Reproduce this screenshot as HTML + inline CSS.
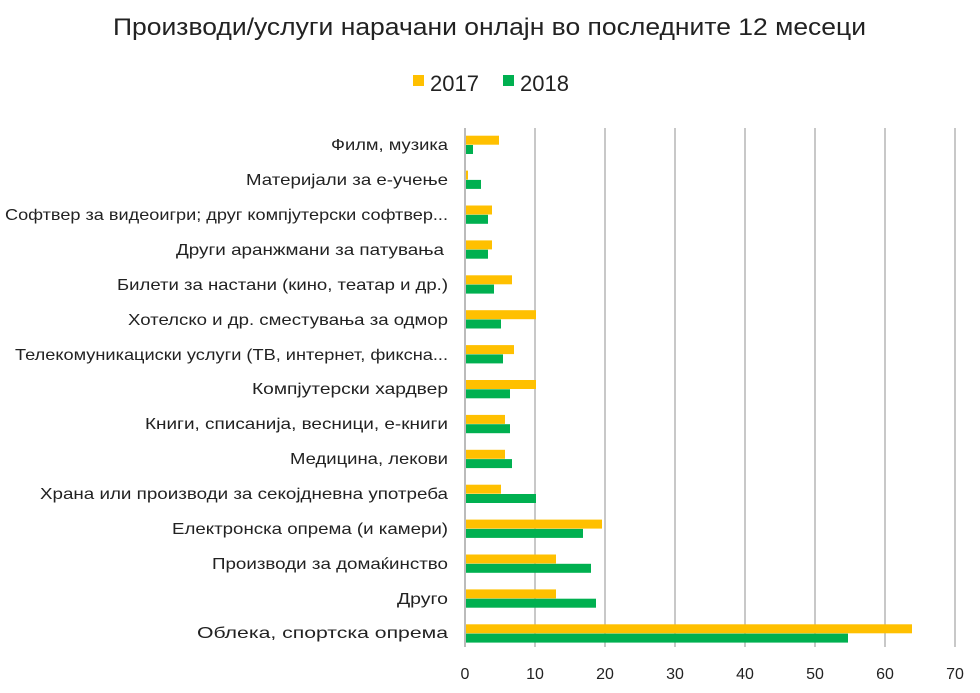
<!DOCTYPE html>
<html><head><meta charset="utf-8"><style>
body{margin:0;background:#fff;width:980px;height:688px;overflow:hidden;font-family:"Liberation Sans",sans-serif;}
</style></head><body>
<svg width="980" height="688" xmlns="http://www.w3.org/2000/svg" font-family="Liberation Sans, sans-serif">
<text x="113" y="35" font-size="24" fill="#222" textLength="753" lengthAdjust="spacingAndGlyphs">Производи/услуги нарачани онлајн во последните 12 месеци</text>
<rect x="413" y="75" width="11" height="11" fill="#FFC000"/>
<text x="430" y="91" font-size="22" fill="#222">2017</text>
<rect x="503" y="75" width="11" height="11" fill="#00B050"/>
<text x="520" y="91" font-size="22" fill="#222">2018</text>
<g stroke="#c8c8c8" stroke-width="2">
<line x1="535" y1="128" x2="535" y2="647"/><line x1="605" y1="128" x2="605" y2="647"/>
<line x1="675" y1="128" x2="675" y2="647"/><line x1="745" y1="128" x2="745" y2="647"/>
<line x1="815" y1="128" x2="815" y2="647"/><line x1="885" y1="128" x2="885" y2="647"/>
<line x1="955" y1="128" x2="955" y2="647"/><line x1="465" y1="128" x2="465" y2="647" stroke="#bbb"/>
</g>
<g font-size="16" fill="#222" text-anchor="middle">
<text x="465" y="679">0</text><text x="535" y="679">10</text><text x="605" y="679">20</text><text x="675" y="679">30</text><text x="745" y="679">40</text><text x="815" y="679">50</text><text x="885" y="679">60</text><text x="955" y="679">70</text>
</g>
<g fill="#FFC000">
<rect x="466" y="135.7" width="33" height="9"/>
<rect x="466" y="170.6" width="2" height="9"/>
<rect x="466" y="205.5" width="26" height="9"/>
<rect x="466" y="240.4" width="26" height="9"/>
<rect x="466" y="275.3" width="46" height="9"/>
<rect x="466" y="310.2" width="70" height="9"/>
<rect x="466" y="345.1" width="48" height="9"/>
<rect x="466" y="380.0" width="70" height="9"/>
<rect x="466" y="414.9" width="39" height="9"/>
<rect x="466" y="449.8" width="39" height="9"/>
<rect x="466" y="484.7" width="35" height="9"/>
<rect x="466" y="519.6" width="136" height="9"/>
<rect x="466" y="554.5" width="90" height="9"/>
<rect x="466" y="589.4" width="90" height="9"/>
<rect x="466" y="624.3" width="446" height="9"/>
</g>
<g fill="#00B050">
<rect x="466" y="145.0" width="7" height="9"/>
<rect x="466" y="179.9" width="15" height="9"/>
<rect x="466" y="214.8" width="22" height="9"/>
<rect x="466" y="249.7" width="22" height="9"/>
<rect x="466" y="284.6" width="28" height="9"/>
<rect x="466" y="319.5" width="35" height="9"/>
<rect x="466" y="354.4" width="37" height="9"/>
<rect x="466" y="389.3" width="44" height="9"/>
<rect x="466" y="424.2" width="44" height="9"/>
<rect x="466" y="459.1" width="46" height="9"/>
<rect x="466" y="494.0" width="70" height="9"/>
<rect x="466" y="528.9" width="117" height="9"/>
<rect x="466" y="563.8" width="125" height="9"/>
<rect x="466" y="598.7" width="130" height="9"/>
<rect x="466" y="633.6" width="382" height="9"/>
</g>
<g font-size="16" fill="#222">
<text x="331" y="150" textLength="117" lengthAdjust="spacingAndGlyphs">Филм, музика</text>
<text x="246" y="185" textLength="202" lengthAdjust="spacingAndGlyphs">Материјали за е-учење</text>
<text x="5" y="220" textLength="443" lengthAdjust="spacingAndGlyphs">Софтвер за видеоигри; друг компјутерски софтвер...</text>
<text x="176" y="255" textLength="268" lengthAdjust="spacingAndGlyphs">Други аранжмани за патувања</text>
<text x="117" y="290" textLength="331" lengthAdjust="spacingAndGlyphs">Билети за настани (кино, театар и др.)</text>
<text x="128" y="325" textLength="320" lengthAdjust="spacingAndGlyphs">Хотелско и др. сместувања за одмор</text>
<text x="15" y="360" textLength="433" lengthAdjust="spacingAndGlyphs">Телекомуникациски услуги (ТВ, интернет, фиксна...</text>
<text x="252" y="394" textLength="196" lengthAdjust="spacingAndGlyphs">Компјутерски хардвер</text>
<text x="145" y="429" textLength="303" lengthAdjust="spacingAndGlyphs">Книги, списанија, весници, е-книги</text>
<text x="290" y="464" textLength="158" lengthAdjust="spacingAndGlyphs">Медицина, лекови</text>
<text x="40" y="499" textLength="408" lengthAdjust="spacingAndGlyphs">Храна или производи за секојдневна употреба</text>
<text x="172" y="534" textLength="276" lengthAdjust="spacingAndGlyphs">Електронска опрема (и камери)</text>
<text x="212" y="569" textLength="236" lengthAdjust="spacingAndGlyphs">Производи за домаќинство</text>
<text x="397" y="604" textLength="51" lengthAdjust="spacingAndGlyphs">Друго</text>
<text x="197" y="638" textLength="251" lengthAdjust="spacingAndGlyphs">Облека, спортска опрема</text>
</g>
</svg>
</body></html>
